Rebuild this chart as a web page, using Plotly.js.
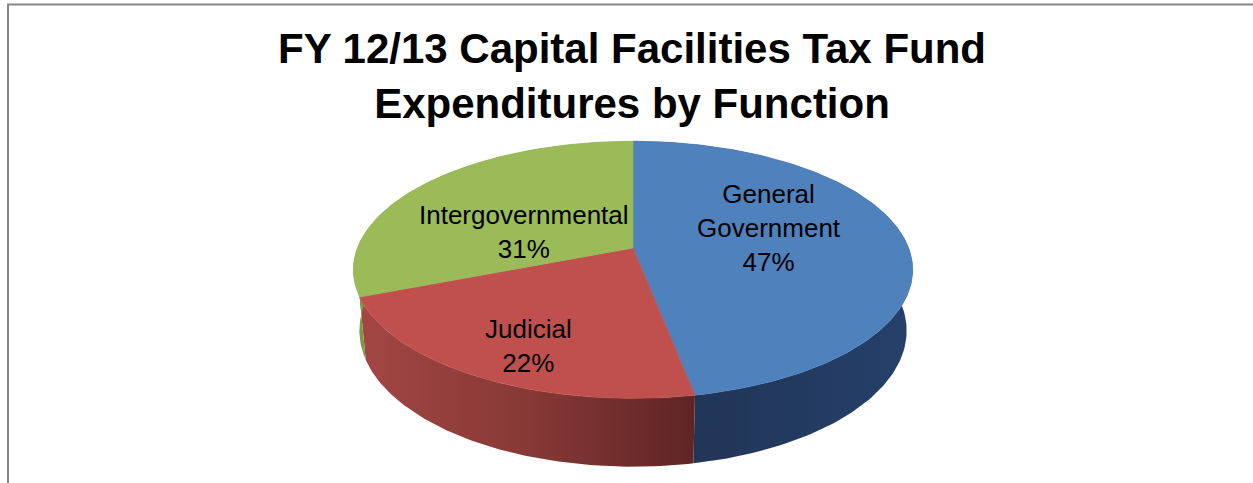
<!DOCTYPE html>
<html>
<head>
<meta charset="utf-8">
<script src="https://cdn.plot.ly/plotly-3.0.1.min.js"></script>
<style>html,body{margin:0;padding:0;background:#fff;}#chart{width:1253px;height:483px;}</style>
</head>
<body>
<div id="chart"></div>
<script>
// ---- data ----
const categories = ['General Government', 'Judicial', 'Intergovernmental'];
const values = [47, 22, 31];
const titleLines = ['FY 12/13 Capital Facilities Tax Fund', 'Expenditures by Function'];

// ---- styles ----
const topColors = ['#4f81bd', '#c0504d', '#9bbb59'];
const sideScales = [
  [[0, '#1f3251'], [1, '#26406a']],
  [[0, '#a24643'], [0.5, '#873936'], [1, '#5e2525']],
  [[0, '#7c9945'], [1, '#87a54c']]
];
const labelShift = [[0, 14], [-33, -39], [0, -17]];

// ---- 3D projection of a tilted disc ----
const W = 1253, H = 483;
const cx = 633, cy = 248;      // screen position of pie centre
const R = 1, D = 5.26, f = 1450, depth = 0.25;
const sphi = 0.453, cphi = Math.sqrt(1 - sphi * sphi);

function proj(theta, r, Y) {
  const X = r * R * Math.sin(theta), Z = -r * R * Math.cos(theta);
  const dist = D - (Z * cphi + Y * sphi);
  return [cx + f * X / dist, cy - f * (Y * cphi - Z * sphi) / dist];
}

const total = values.reduce((a, b) => a + b, 0);
const traces = [];
const tops = [];
const annotations = [];
let start = 0;
values.forEach((v, i) => {
  const a = start / total * 2 * Math.PI;
  const b = (start + v) / total * 2 * Math.PI;
  start += v;
  const n = Math.max(8, Math.ceil((b - a) / (Math.PI / 180)));
  // side band
  const sx = [], sy = [];
  for (let k = 0; k <= n; k++) { const p = proj(a + (b - a) * k / n, 1, 0); sx.push(p[0]); sy.push(p[1]); }
  for (let k = n; k >= 0; k--) { const p = proj(a + (b - a) * k / n, 1, -depth); sx.push(p[0]); sy.push(p[1]); }
  traces.push({
    type: 'scatter', mode: 'lines', x: sx, y: sy, fill: 'toself',
    fillcolor: sideScales[i][0][1],
    fillgradient: {type: 'horizontal', colorscale: sideScales[i]},
    line: {width: 0}, hoverinfo: 'skip', showlegend: false
  });
  // top face
  const p0 = proj(0, 0, 0);
  const tx = [p0[0]], ty = [p0[1]];
  for (let k = 0; k <= n; k++) { const p = proj(a + (b - a) * k / n, 1, 0); tx.push(p[0]); ty.push(p[1]); }
  tx.push(p0[0]); ty.push(p0[1]);
  tops.push({
    type: 'scatter', mode: 'lines', x: tx, y: ty, fill: 'toself',
    fillcolor: topColors[i], line: {width: 0.6, color: topColors[i]},
    name: categories[i], hoverinfo: 'name', showlegend: false
  });
  // label
  const m = proj((a + b) / 2, 0.5, 0);
  annotations.push({
    x: m[0], y: m[1], xref: 'x', yref: 'y', showarrow: false,
    text: categories[i].replace(' ', '<br>') + '<br>' + Math.round(v / total * 100) + '%',
    font: {family: 'Liberation Sans, Arial, sans-serif', size: 26, color: '#000'},
    xshift: labelShift[i][0], yshift: labelShift[i][1]
  });
});

const layout = {
  width: W, height: H,
  margin: {l: 0, r: 0, t: 0, b: 0},
  paper_bgcolor: '#fff', plot_bgcolor: '#fff',
  title: {
    text: '<b>' + titleLines.join('<br>') + '</b>',
    x: 632 / W, xref: 'container', xanchor: 'center',
    y: 1 - 63 / H, yref: 'container', yanchor: 'middle',
    font: {family: 'Liberation Sans, Arial, sans-serif', size: 42, color: '#000'}
  },
  xaxis: {range: [0, W], visible: false, fixedrange: true},
  yaxis: {range: [H, 0], visible: false, fixedrange: true},
  showlegend: false,
  annotations: annotations,
  shapes: [
    {type: 'line', xref: 'x', yref: 'y', x0: 8, x1: 8, y0: 4, y1: H, line: {color: '#878787', width: 2}},
    {type: 'line', xref: 'x', yref: 'y', x0: 7, x1: W, y0: 4.5, y1: 4.5, line: {color: '#878787', width: 2}}
  ]
};

Plotly.newPlot('chart', traces.concat(tops), layout, {displayModeBar: false, staticPlot: true});
</script>
</body>
</html>
